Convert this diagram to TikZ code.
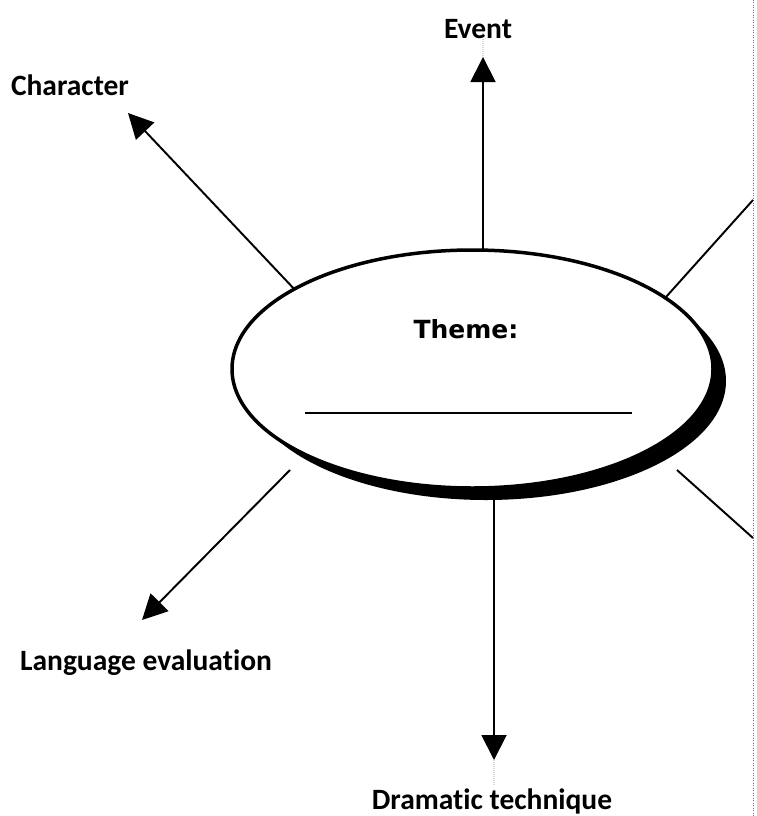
\documentclass[tikz,border=0pt]{standalone}
\usepackage{fontspec}
\setmainfont[Ligatures={NoCommon,NoContextual}]{Carlito}
\newfontfamily\themefont{DejaVu Sans}
\usetikzlibrary{arrows.meta,shapes.geometric}
\begin{document}
\begin{tikzpicture}[x=1pt,y=-1pt,
  lbl/.style={font=\fontsize{29.5}{33}\selectfont\bfseries, inner sep=0pt, anchor=center},
  arr/.style={line width=1.9pt, -{Triangle[length=25pt,width=25pt]}},
  ray/.style={line width=1.9pt},
  shade/.style={line width=2pt, gray!30, dash pattern=on 1pt off 1pt},
]
\useasboundingbox[fill=white] (0,0) rectangle (756,816);
% page edge
\draw[black!55, line width=1pt, dash pattern=on 1pt off 1.5pt] (753,0) -- (753,816);

% named points
\coordinate (evs) at (483,250);
\coordinate (evt) at (483,57);
\coordinate (chs) at (297,292);
\coordinate (cht) at (128,113);
\coordinate (las) at (290,470);
\coordinate (lat) at (142,620);
\coordinate (drs) at (494,492);
\coordinate (drt) at (494,760);
\coordinate (urs) at (666,297);
\coordinate (ure) at (753,200);
\coordinate (lrs) at (677,470);
\coordinate (lre) at (753,538);

% soft shadows of connectors
\begin{scope}[shift={(3,2)}]
\draw[shade] (evs) -- ([yshift=25]evt);
\draw[shade] (chs) -- ([shift={(16,17)}]cht);
\draw[shade] (las) -- ([shift={(16,-16)}]lat);
\draw[shade] (drs) -- ([yshift=-25]drt);
\draw[shade] (urs) -- (ure);
\draw[shade] (lrs) -- (lre);
\end{scope}

% connectors
\draw[arr] (evs) -- (evt);
\draw[arr] (chs) -- (cht);
\draw[arr] (las) -- (lat);
\draw[arr] (drs) -- (drt);
\draw[ray] (urs) -- (ure);
\draw[ray] (lrs) -- (lre);

% ellipse with shadow
\fill[black] (486,381) ellipse [x radius=240, y radius=119];
\node[ellipse, draw, line width=3.5pt, fill=white, minimum width=481pt, minimum height=238pt, inner sep=0pt] (theme) at (472.5,369) {};
\node[font=\themefont\fontsize{25}{28}\selectfont\bfseries, inner sep=0pt] (themelbl) at (466,329) {Theme:};
\coordinate (bl) at (305,413);
\coordinate (br) at (632,413);
\draw[line width=2.2pt] (bl) -- (br);

% labels
\node[lbl] (event) at (478,29) {Event};
\node[lbl] (character) at (70,85) {Character};
\node[lbl] (language) at (146,663) {Language evaluation};
\node[lbl] (dramatic) at (492,801) {Dramatic technique};
\end{tikzpicture}
\end{document}
